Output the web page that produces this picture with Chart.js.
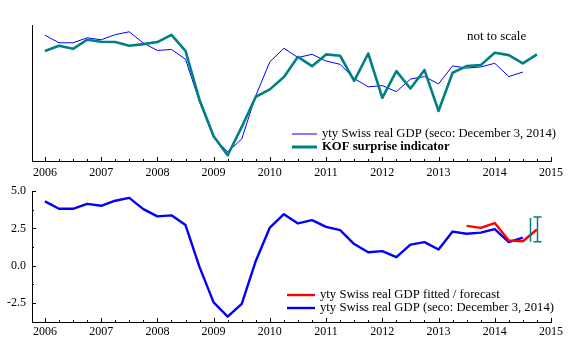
<!DOCTYPE html>
<html>
<head>
<meta charset="utf-8">
<script src="https://cdn.jsdelivr.net/npm/chart.js@4"></script>
<style>
html, body { margin: 0; padding: 0; background: #fff; }
#wrap { position: relative; width: 570px; height: 343px; }
canvas { position: absolute; left: 0; }
#top-chart { top: 0; }
#bottom-chart { top: 178px; }
</style>
</head>
<body>
<div id="wrap">
  <canvas id="top-chart" width="570" height="178"></canvas>
  <canvas id="bottom-chart" width="570" height="165"></canvas>
</div>
<script>
// quarterly data, first value = 2006 Q1
const firstQuarter = 2006
const yearTicks = [2006, 2007, 2008, 2009, 2010, 2011, 2012, 2013, 2014, 2015]
const gdpTicks = [-2.5, 0, 2.5, 5]

// yty Swiss real GDP (seco, 3 Dec 2014), 2006Q1 - 2014Q3
const gdp = [4.32, 3.82, 3.82, 4.15, 4.02, 4.36, 4.55, 3.80,
    3.31, 3.38, 2.73, -0.10, -2.46, -3.42, -2.56, 0.32,
    2.56, 3.46, 2.84, 3.06, 2.61, 2.39, 1.45, 0.90,
    0.98, 0.58, 1.41, 1.58, 1.09, 2.29, 2.14, 2.22,
    2.46, 1.58, 1.88]

// KOF surprise indicator (not to scale), 2006Q1 - 2014Q4
const kof = [3.27, 3.62, 3.42, 4.02, 3.89, 3.87, 3.62, 3.73,
    3.87, 4.35, 3.29, 0.02, -2.38, -3.64, -1.76, 0.24,
    0.73, 1.55, 2.89, 2.27, 3.05, 2.96, 1.30, 3.11,
    0.17, 1.94, 0.79, 2.01, -0.70, 1.83, 2.27, 2.34,
    3.16, 3.00, 2.45, 3.05]

// fitted / forecast, 2013Q3 - 2014Q4
const fittedStart = 2013.5
const fitted = [2.67, 2.54, 2.86, 1.69, 1.64, 2.43]

// forecast interval
const bandX = [2014.62, 2014.75]
const bandLow = [1.60, 1.60]
const bandHigh = [3.20, 3.27]

const FONT = "'Liberation Serif', 'Times New Roman', serif"
Chart.defaults.font.family = FONT
Chart.defaults.font.size = 12
Chart.defaults.color = "#000"

function toPoints(values, start) {
    return values.map((v, i) => ({ x: start + i / 4, y: v }))
}

// small inward tick marks like the original
const axisMarks = {
    id: "axisMarks",
    afterDraw(chart, args, opts) {
        const ctx = chart.ctx
        const xs = chart.scales.x
        const ys = chart.scales.y
        const a = chart.chartArea
        ctx.save()
        ctx.strokeStyle = "#000"
        ctx.lineWidth = 1
        ctx.beginPath()
        const q0 = yearTicks[0] * 4
        const q1 = yearTicks[yearTicks.length - 1] * 4
        for (let q = q0; q <= q1; q++) {
            const px = Math.round(xs.getPixelForValue(q / 4)) + 0.5
            const len = q % 4 === 0 ? 4 : 2
            ctx.moveTo(px, a.bottom)
            ctx.lineTo(px, a.bottom - len)
        }
        if (opts.yMarks) {
            for (let i = 0; i < gdpTicks.length; i++) {
                const v = gdpTicks[i]
                const py = Math.round(ys.getPixelForValue(v)) + 0.5
                ctx.moveTo(a.left, py)
                ctx.lineTo(a.left + 4, py)
                const mid = v - 1.25
                if (mid >= ys.min) {
                    const pm = Math.round(ys.getPixelForValue(mid)) + 0.5
                    ctx.moveTo(a.left, pm)
                    ctx.lineTo(a.left + 2, pm)
                }
            }
        }
        ctx.stroke()
        ctx.restore()
    }
}

// hand drawn legend + notes
const notes = {
    id: "notes",
    afterDraw(chart, args, opts) {
        const ctx = chart.ctx
        ctx.save()
        ctx.textBaseline = "middle"
        ctx.textAlign = "left"
        opts.items.forEach((it, i) => {
            const y = opts.y + i * opts.rowGap
            ctx.strokeStyle = it.color
            ctx.lineWidth = it.width
            ctx.beginPath()
            ctx.moveTo(opts.x, y)
            ctx.lineTo(opts.x + opts.lineLen, y)
            ctx.stroke()
            ctx.fillStyle = "#000"
            ctx.font = (it.bold ? "bold " : "") + "12.7px " + FONT
            ctx.fillText(it.text, opts.x + opts.lineLen + 5, y)
        })
        if (opts.label) {
            ctx.font = "13px " + FONT
            ctx.fillText(opts.label.text, opts.label.x, opts.label.y)
        }
        ctx.restore()
    }
}

const errorBars = {
    id: "errorBars",
    afterDatasetsDraw(chart) {
        const ctx = chart.ctx
        const xs = chart.scales.x
        const ys = chart.scales.y
        ctx.save()
        ctx.strokeStyle = "#008080"
        ctx.lineWidth = 1.5
        ctx.beginPath()
        for (let i = 0; i < bandX.length; i++) {
            const px = Math.round(xs.getPixelForValue(bandX[i])) + 0.5
            const lo = ys.getPixelForValue(bandLow[i])
            const hi = ys.getPixelForValue(bandHigh[i])
            ctx.moveTo(px, lo)
            ctx.lineTo(px, hi)
            if (i === bandX.length - 1) {
                ctx.moveTo(px - 4, lo)
                ctx.lineTo(px + 4, lo)
                ctx.moveTo(px - 4, hi)
                ctx.lineTo(px + 4, hi)
            }
        }
        ctx.stroke()
        ctx.restore()
    }
}

function xAxis(height, pad) {
    return {
        type: "linear",
        min: 2005.77,
        max: 2015,
        grid: { display: false, drawTicks: false },
        border: { display: true, color: "#000", width: 1 },
        ticks: { padding: pad, maxRotation: 0, autoSkip: false, font: { size: 12 },
                 callback: (v) => String(v) },
        afterBuildTicks: (s) => { s.ticks = yearTicks.map(v => ({ value: v })) },
        afterFit: (s) => { s.height = height }
    }
}

const lineStyle = { fill: false, pointRadius: 0, tension: 0, borderJoinStyle: "round" }

new Chart(document.getElementById("top-chart"), {
    type: "line",
    data: {
        datasets: [
            { ...lineStyle, label: "KOF surprise indicator", data: toPoints(kof, firstQuarter),
              borderColor: "#008080", borderWidth: 2.6 },
            { ...lineStyle, label: "yty Swiss real GDP", data: toPoints(gdp, firstQuarter),
              borderColor: "#0000ff", borderWidth: 1 }
        ]
    },
    options: {
        responsive: false,
        animation: false,
        devicePixelRatio: 1,
        layout: { padding: { top: 25, right: 19, left: 0, bottom: 0 } },
        plugins: {
            legend: { display: false },
            tooltip: { enabled: false },
            axisMarks: { yMarks: false },
            notes: {
                x: 292, y: 134, rowGap: 13, lineLen: 25,
                items: [
                    { text: "yty Swiss real GDP (seco: December 3, 2014)", color: "#0000ff", width: 1 },
                    { text: "KOF surprise indicator", color: "#008080", width: 3, bold: true }
                ],
                label: { text: "not to scale", x: 467, y: 37 }
            }
        },
        scales: {
            x: xAxis(17, 5),
            y: {
                min: -4.02, max: 5.0,
                grid: { display: false, drawTicks: false },
                border: { display: true, color: "#000", width: 1 },
                ticks: { display: false },
                afterFit: (s) => { s.width = 32 }
            }
        }
    },
    plugins: [axisMarks, notes]
})

new Chart(document.getElementById("bottom-chart"), {
    type: "line",
    data: {
        datasets: [
            { ...lineStyle, label: "yty Swiss real GDP fitted / forecast", data: toPoints(fitted, fittedStart),
              borderColor: "#ff0000", borderWidth: 2.4 },
            { ...lineStyle, label: "yty Swiss real GDP (seco: December 3, 2014)", data: toPoints(gdp, firstQuarter),
              borderColor: "#0000ff", borderWidth: 2.4 }
        ]
    },
    options: {
        responsive: false,
        animation: false,
        devicePixelRatio: 1,
        layout: { padding: { top: 7, right: 19, left: 0, bottom: 0 } },
        plugins: {
            legend: { display: false },
            tooltip: { enabled: false },
            axisMarks: { yMarks: true },
            notes: {
                x: 287, y: 117, rowGap: 13, lineLen: 28,
                items: [
                    { text: "yty Swiss real GDP fitted / forecast", color: "#ff0000", width: 2.4 },
                    { text: "yty Swiss real GDP (seco: December 3, 2014)", color: "#0000ff", width: 2.4 }
                ]
            }
        },
        scales: {
            x: xAxis(21, 3),
            y: {
                min: -3.78, max: 5.0,
                grid: { display: false, drawTicks: false },
                border: { display: true, color: "#000", width: 1 },
                ticks: { padding: 6, font: { size: 12 }, callback: (v) => Number(v).toFixed(1) },
                afterBuildTicks: (s) => { s.ticks = gdpTicks.map(v => ({ value: v })) },
                afterFit: (s) => { s.width = 32 }
            }
        }
    },
    plugins: [axisMarks, notes, errorBars]
})
</script>
</body>
</html>
